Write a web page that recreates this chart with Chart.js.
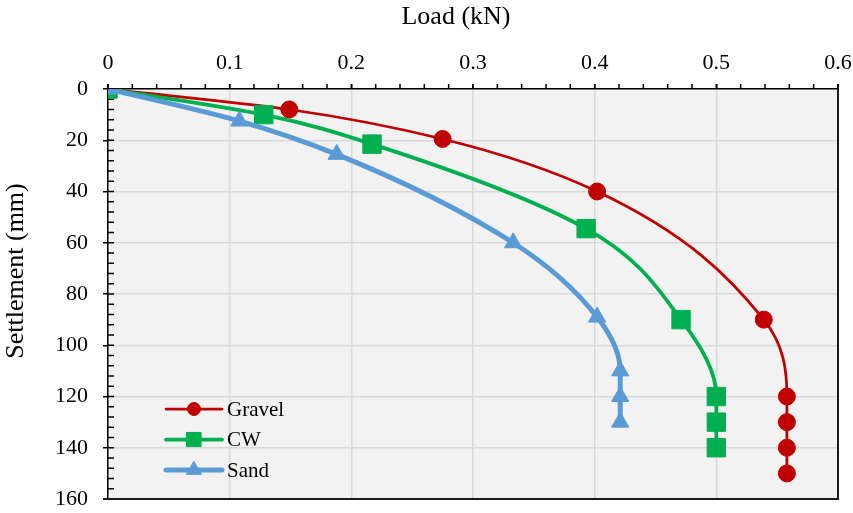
<!DOCTYPE html>
<html>
<head>
<meta charset="utf-8">
<title>Load vs Settlement</title>
<script src="https://cdn.jsdelivr.net/npm/chart.js@4.4.1/dist/chart.umd.min.js"></script>
<style>
  html, body { margin: 0; padding: 0; background: #ffffff; }
  #wrap { width: 853px; height: 513px; position: relative; }
</style>
</head>
<body>
<div id="wrap"><canvas id="chart" width="853" height="513"></canvas></div>
<script>
// Load (kN) and settlement (mm) for each backfill material
const seriesNames = ['Gravel', 'CW', 'Sand'];
const loadGravel   = [0, 0.149, 0.275, 0.402, 0.539, 0.558, 0.558, 0.558, 0.558];
const settleGravel = [0, 8, 19.5, 40, 90, 120, 130, 140, 150];
const loadCW       = [0, 0.128, 0.217, 0.393, 0.471, 0.500, 0.500, 0.500];
const settleCW     = [0, 10, 21.5, 54.5, 90, 120, 130, 140];
const loadSand     = [0, 0.108, 0.188, 0.333, 0.402, 0.421, 0.421, 0.421];
const settleSand   = [0, 12.5, 25.5, 60, 89, 110, 120, 130];

const loadTicks   = ['0', '0.1', '0.2', '0.3', '0.4', '0.5', '0.6'];
const settleTicks = ['0', '20', '40', '60', '80', '100', '120', '140', '160'];

const xTitle = 'Load (kN)';
const yTitle = 'Settlement (mm)';

const SERIF = "'Liberation Serif', 'Times New Roman', serif";

function pairs(xs, ys) {
  return xs.map((x, i) => ({ x: x, y: ys[i] }));
}

// Fixed axis box sizes, no extra room for overhanging edge labels
function fixBox(scale, size) {
  if (scale.isHorizontal()) scale.height = size; else scale.width = size;
  scale.paddingLeft = 0;
  scale.paddingRight = 0;
  scale.paddingTop = 0;
  scale.paddingBottom = 0;
}

// Grey plot background
const plotBackground = {
  id: 'plotBackground',
  beforeDraw(chart) {
    const { ctx, chartArea: a } = chart;
    ctx.save();
    ctx.fillStyle = '#F2F2F2';
    ctx.fillRect(a.left, a.top, a.right - a.left, a.bottom - a.top);
    ctx.restore();
  }
};

// Minor tick marks, inner halves of the major y ticks and the frame
const axisDecor = {
  id: 'axisDecor',
  beforeDatasetsDraw(chart) {
    const { ctx, chartArea: a, scales } = chart;
    const xs = scales.x, ys = scales.y;
    ctx.save();
    ctx.strokeStyle = '#000';
    ctx.lineWidth = 1.5;
    ctx.beginPath();
    // x minor ticks every 0.02, pointing up
    for (let k = 0; k <= 30; k++) {
      const px = xs.getPixelForValue(k * 0.02);
      ctx.moveTo(px, a.top - 5);
      ctx.lineTo(px, a.top);
    }
    // y ticks every 4 mm, pointing into the plot
    for (let k = 0; k <= 40; k++) {
      const py = ys.getPixelForValue(k * 4);
      ctx.moveTo(a.left, py);
      ctx.lineTo(a.left + 6, py);
    }
    ctx.stroke();
    // frame: bottom and right edges
    ctx.lineWidth = 2;
    ctx.strokeStyle = '#1a1a1a';
    ctx.beginPath();
    ctx.moveTo(a.left - 5, a.bottom);
    ctx.lineTo(a.right, a.bottom);
    ctx.lineTo(a.right, a.top);
    ctx.stroke();
    ctx.restore();
  }
};

// Axis titles and the legend drawn inside the plot
const titlesAndLegend = {
  id: 'titlesAndLegend',
  afterDraw(chart) {
    const { ctx, chartArea: a } = chart;
    ctx.save();
    ctx.fillStyle = '#000';
    ctx.font = '26px ' + SERIF;
    ctx.textAlign = 'center';
    ctx.textBaseline = 'middle';
    ctx.fillText(xTitle, 456, 17);
    ctx.save();
    ctx.translate(16, 271);
    ctx.rotate(-Math.PI / 2);
    ctx.fillText(yTitle, 0, 0);
    ctx.restore();

    // legend
    const rows = [a.bottom - 90, a.bottom - 59.5, a.bottom - 29];
    const markerR = [6.5, 10, 8.5];
    const x0 = a.left + 58, x1 = a.left + 114;
    chart.data.datasets.forEach((ds, i) => {
      const y = rows[i];
      ctx.strokeStyle = ds.borderColor;
      ctx.lineWidth = ds.borderWidth;
      ctx.lineCap = 'round';
      ctx.beginPath();
      ctx.moveTo(x0, y);
      ctx.lineTo(x1, y);
      ctx.stroke();
      ctx.fillStyle = ds.pointBackgroundColor;
      ctx.strokeStyle = ds.pointBorderColor;
      ctx.lineWidth = 1;
      Chart.helpers.drawPoint(ctx, {
        pointStyle: ds.pointStyle,
        radius: markerR[i],
        rotation: 0,
        borderWidth: 1
      }, (x0 + x1) / 2, y);
      ctx.fillStyle = '#000';
      ctx.font = '21px ' + SERIF;
      ctx.textAlign = 'left';
      ctx.textBaseline = 'middle';
      ctx.fillText(ds.label, x1 + 5, y + 1);
    });
    ctx.restore();
  }
};

const colors = ['#C00000', '#00B050', '#5B9BD5'];

new Chart(document.getElementById('chart'), {
  type: 'line',
  data: {
    datasets: [
      {
        label: seriesNames[0],
        data: pairs(loadGravel, settleGravel),
        borderColor: colors[0], borderWidth: 2.75,
        pointStyle: 'circle', pointRadius: 8.5,
        pointBackgroundColor: colors[0], pointBorderColor: colors[0], pointBorderWidth: 1,
        cubicInterpolationMode: 'monotone', order: 2
      },
      {
        label: seriesNames[1],
        data: pairs(loadCW, settleCW),
        borderColor: colors[1], borderWidth: 3.75,
        pointStyle: 'rect', pointRadius: 13,
        pointBackgroundColor: colors[1], pointBorderColor: colors[1], pointBorderWidth: 1,
        cubicInterpolationMode: 'monotone', order: 1
      },
      {
        label: seriesNames[2],
        data: pairs(loadSand, settleSand),
        borderColor: colors[2], borderWidth: 5,
        pointStyle: 'triangle', pointRadius: 10,
        pointBackgroundColor: colors[2], pointBorderColor: colors[2], pointBorderWidth: 1,
        cubicInterpolationMode: 'monotone', order: 0
      }
    ]
  },
  options: {
    indexAxis: 'y',
    responsive: false,
    animation: false,
    events: [],
    layout: { padding: { left: 0, top: 0, right: 15, bottom: 13 } },
    plugins: {
      legend: { display: false },
      tooltip: { enabled: false },
      title: { display: false }
    },
    scales: {
      x: {
        type: 'linear',
        position: 'top',
        min: 0, max: 0.6,
        afterFit(scale) { fixBox(scale, 89); },
        afterBuildTicks(scale) {
          scale.ticks = loadTicks.map((t, i) => ({ value: i * 0.1 }));
        },
        ticks: {
          callback: (v, i) => loadTicks[i],
          color: '#000',
          font: { family: SERIF, size: 22 },
          padding: 8,
          maxRotation: 0,
          autoSkip: false
        },
        grid: { color: '#D9D9D9', lineWidth: 1.5, tickColor: '#000', tickLength: 5, tickWidth: 1.5 },
        border: { color: '#000', width: 1.5 },
        title: { display: false }
      },
      y: {
        type: 'linear',
        position: 'left',
        reverse: true,
        min: 0, max: 160,
        afterFit(scale) { fixBox(scale, 108); },
        afterBuildTicks(scale) {
          scale.ticks = settleTicks.map((t, i) => ({ value: i * 20 }));
        },
        ticks: {
          callback: (v, i) => settleTicks[i],
          color: '#000',
          font: { family: SERIF, size: 22 },
          padding: 15,
          autoSkip: false
        },
        grid: { color: '#D9D9D9', lineWidth: 1.5, tickColor: '#000', tickLength: 5, tickWidth: 1.5 },
        border: { color: '#000', width: 1.5 },
        title: { display: false }
      }
    }
  },
  plugins: [plotBackground, axisDecor, titlesAndLegend]
});
</script>
</body>
</html>
